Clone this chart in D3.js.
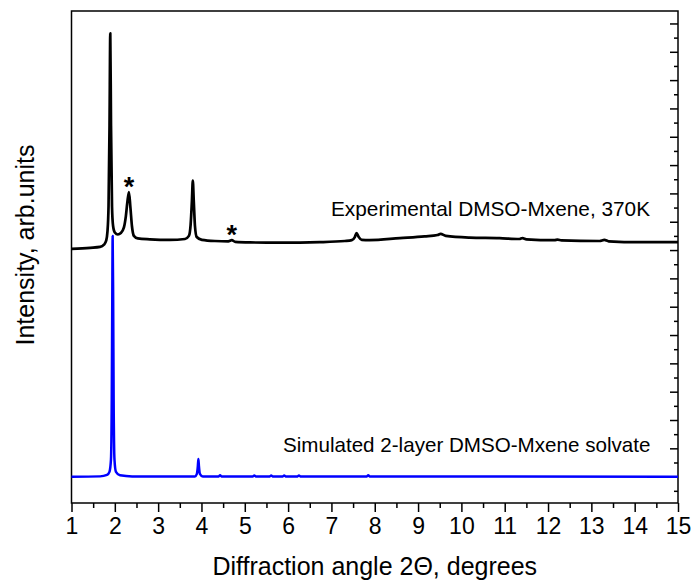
<!DOCTYPE html>
<html>
<head>
<meta charset="utf-8">
<script src="https://cdn.jsdelivr.net/npm/d3@7"></script>
<style>
  body { margin: 0; background: #fff; }
  text { font-family: Arial, "Liberation Sans", sans-serif; }
</style>
</head>
<body>
<div id="chart-area"></div>
<script>
// experimental pattern (2theta, intensity)
var expTheta = [1.00, 1.43, 1.66, 1.75, 1.80, 1.83, 1.855, 1.878, 1.895, 1.912, 1.935, 1.96,
    2.00, 2.07, 2.14, 2.21, 2.255, 2.29, 2.326, 2.36, 2.395, 2.44, 2.53, 2.81, 3.27, 3.62,
    3.71, 3.75, 3.78, 3.80, 3.822, 3.85, 3.89, 4.01, 4.31, 4.62, 4.70, 4.78, 5.12, 5.81,
    6.73, 7.31, 7.47, 7.54, 7.58, 7.63, 7.70, 7.88, 8.58, 9.15, 9.45, 9.52, 9.64, 10.19,
    10.88, 11.34, 11.41, 11.50, 12.15, 12.22, 12.31, 13.19, 13.30, 13.40, 14.11, 15.0];
var expIntensity = [8.04, 8.08, 8.11, 8.19, 8.33, 8.65, 9.55, 12.4, 15.65, 12.4, 9.55, 8.85,
    8.62, 8.55, 8.60, 8.80, 9.20, 9.70, 10.05, 9.50, 8.85, 8.50, 8.41, 8.38, 8.36, 8.39,
    8.50, 8.90, 9.75, 10.45, 9.75, 8.85, 8.46, 8.36, 8.32, 8.31, 8.35, 8.29, 8.27, 8.26,
    8.28, 8.32, 8.35, 8.46, 8.60, 8.46, 8.36, 8.35, 8.42, 8.48, 8.53, 8.57, 8.50, 8.44,
    8.42, 8.39, 8.42, 8.38, 8.35, 8.37, 8.34, 8.32, 8.36, 8.31, 8.28, 8.28];

// simulated pattern
var simTheta = [1.00, 1.66, 1.82, 1.876, 1.911, 1.929, 1.941, 1.950, 1.962, 1.973, 1.992, 2.026,
    2.12, 2.40, 3.85, 3.894, 3.917, 3.929, 3.941, 3.964, 4.03, 4.40, 4.43, 4.46, 5.19, 5.22,
    5.25, 5.58, 5.61, 5.64, 5.88, 5.91, 5.94, 6.22, 6.25, 6.28, 7.82, 7.85, 7.88, 15.0];
var simIntensity = [0.00, 0.01, 0.06, 0.17, 0.60, 2.70, 6.20, 8.50, 6.20, 2.70, 0.60, 0.17,
    0.05, 0.01, 0.01, 0.10, 0.38, 0.62, 0.38, 0.10, 0.01, 0.01, 0.05, 0.01, 0.01, 0.04,
    0.01, 0.01, 0.04, 0.01, 0.01, 0.04, 0.01, 0.01, 0.04, 0.01, 0.01, 0.05, 0.01, 0.00];

var xMajor = d3.range(1, 16);
var xMinor = d3.range(1.5, 15, 1);
var yMajor = d3.range(0, 17);
var yMinor = d3.range(-0.5, 16.5, 1);

var margin = { left: 71.5, right: 14, top: 11, bottom: 81 };
var width = 692 - margin.left - margin.right;
var height = 584 - margin.top - margin.bottom;

var svg = d3.select("#chart-area").append("svg")
    .attr("width", 692)
    .attr("height", 584);
var g = svg.append("g")
    .attr("transform", "translate(" + margin.left + ", " + margin.top + ")");

var x = d3.scaleLinear().domain([1, 15]).range([0, width]);
var y = d3.scaleLinear().domain([-0.93, 16.44]).range([height, 0]);

// bottom axis, ticks outward
var xaxg = g.append("g")
    .attr("transform", "translate(0, " + height + ")")
    .call(d3.axisBottom(x).tickValues(xMajor).tickSize(9).tickPadding(6).tickFormat(d3.format("d")));
g.append("g")
    .attr("transform", "translate(0, " + height + ")")
    .call(d3.axisBottom(x).tickValues(xMinor).tickSize(5).tickFormat(""));
xaxg.selectAll("text")
    .attr("font-size", "23px")
    .attr("font-family", "Arial, 'Liberation Sans', sans-serif")
    .attr("fill", "#000");

// right axis, ticks inward, no labels
g.append("g")
    .attr("transform", "translate(" + width + ", 0)")
    .call(d3.axisLeft(y).tickValues(yMajor).tickSize(8).tickFormat(""));
g.append("g")
    .attr("transform", "translate(" + width + ", 0)")
    .call(d3.axisLeft(y).tickValues(yMinor).tickSize(4).tickFormat(""));

g.selectAll(".domain").remove();
g.selectAll(".tick line").attr("stroke", "#000").attr("stroke-width", 1.5);

// frame
g.append("rect")
    .attr("width", width)
    .attr("height", height)
    .attr("fill", "none")
    .attr("stroke", "#000")
    .attr("stroke-width", 1.5);

var line = d3.line()
    .x((d) => x(d[0]))
    .y((d) => y(d[1]))
    .curve(d3.curveMonotoneX);

g.append("path")
    .datum(d3.zip(simTheta, simIntensity))
    .attr("fill", "none")
    .attr("stroke", "#0000ff")
    .attr("stroke-width", 2.5)
    .attr("stroke-linejoin", "round")
    .attr("d", line);

g.append("path")
    .datum(d3.zip(expTheta, expIntensity))
    .attr("fill", "none")
    .attr("stroke", "#000")
    .attr("stroke-width", 2.7)
    .attr("stroke-linejoin", "round")
    .attr("d", line);

// asterisks over the impurity peaks
var starTheta = [2.33, 4.70];
var starIntensity = [10.45, 8.75];
g.selectAll(".star").data(d3.zip(starTheta, starIntensity)).enter()
    .append("text")
    .attr("class", "star")
    .attr("x", (d) => x(d[0]))
    .attr("y", (d) => y(d[1]) + 15)
    .attr("text-anchor", "middle")
    .attr("font-size", "27px")
    .attr("font-weight", "bold")
    .text("*");

// curve labels
g.append("text")
    .attr("x", 331 - margin.left)
    .attr("y", 216 - margin.top)
    .attr("font-size", "20.8px")
    .text("Experimental DMSO-Mxene, 370K");
g.append("text")
    .attr("x", 283 - margin.left)
    .attr("y", 452 - margin.top)
    .attr("font-size", "20.6px")
    .text("Simulated 2-layer DMSO-Mxene solvate");

// axis titles
g.append("text")
    .attr("x", width / 2)
    .attr("y", height + 72)
    .attr("font-size", "25px")
    .attr("text-anchor", "middle")
    .text("Diffraction angle 2\u0398, degrees");
g.append("text")
    .attr("x", -(245 - margin.top))
    .attr("y", -38)
    .attr("font-size", "25px")
    .attr("text-anchor", "middle")
    .attr("transform", "rotate(-90)")
    .text("Intensity, arb.units");
</script>
</body>
</html>
